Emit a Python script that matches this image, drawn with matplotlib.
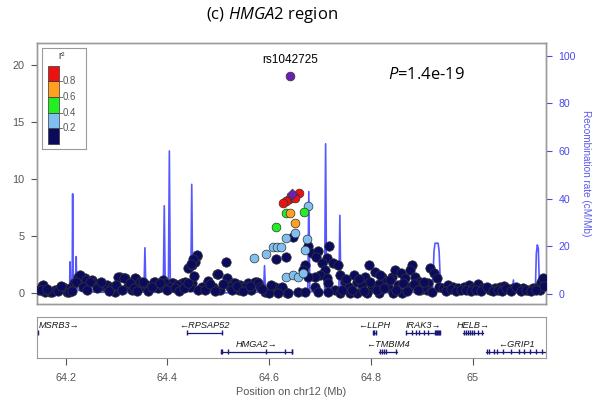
import numpy as np
import matplotlib.pyplot as plt

plt.rcParams['font.family'] = ['Liberation Sans', 'DejaVu Sans']
plt.rcParams['mathtext.fontset'] = 'custom'
plt.rcParams['mathtext.it'] = 'Open Sans:italic'
plt.rcParams['mathtext.rm'] = 'Open Sans'

# --- SNP results (position in Mb, -log10 P) by r2 bin ---
navy_pos = [64.153, 64.147, 64.160, 64.170, 64.179, 64.189, 64.196, 64.202, 64.209, 64.217,
            64.225, 64.232, 64.238, 64.245, 64.253, 64.258, 64.266, 64.274, 64.281, 64.291,
            64.297, 64.307, 64.316, 64.322, 64.330, 64.338, 64.346, 64.356, 64.366, 64.375,
            64.382, 64.392, 64.155, 64.151, 64.173, 64.206, 64.228, 64.240, 64.248, 64.268,
            64.281, 64.291, 64.304, 64.314, 64.337, 64.346, 64.360, 64.373, 64.392, 64.412,
            64.425, 64.438, 64.448, 64.441, 64.448, 64.454, 64.458, 64.453, 64.479, 64.498,
            64.515, 64.517, 64.530, 64.543, 64.559, 64.576, 64.595, 64.614, 64.633, 64.615,
            64.625, 64.635, 64.458, 64.451, 64.447, 64.499, 64.479, 64.532, 64.572, 64.579,
            64.592, 64.612, 64.625, 64.638, 64.409, 64.428, 64.435, 64.468, 64.396, 64.405,
            64.419, 64.445, 64.461, 64.490, 64.504, 64.523, 64.540, 64.553, 64.565, 64.582,
            64.599, 64.618, 64.646, 64.677, 64.684, 64.697, 64.692, 64.718, 64.713, 64.703,
            64.726, 64.735, 64.709, 64.700, 64.713, 64.690, 64.677, 64.671, 64.667, 64.739,
            64.749, 64.766, 64.772, 64.796, 64.808, 64.789, 64.821, 64.828, 64.841, 64.847,
            64.859, 64.867, 64.880, 64.877, 64.887, 64.897, 64.756, 64.782, 64.802, 64.815,
            64.834, 64.854, 64.874, 64.690, 64.716, 64.730, 64.657, 64.671, 64.697, 64.716,
            64.739, 64.759, 64.772, 64.792, 64.815, 64.844, 64.861, 64.916, 64.923, 64.929,
            64.913, 64.910, 64.920, 64.933, 64.942, 64.952, 64.962, 64.972, 64.982, 64.992,
            65.001, 65.011, 65.021, 65.034, 65.044, 65.054, 65.062, 65.070, 65.080, 65.090,
            65.099, 65.109, 65.119, 65.128, 65.134, 65.139, 65.132, 64.897, 64.903,
            64.163, 64.185, 64.192, 64.213, 64.221, 64.235, 64.243, 64.262, 64.270, 64.286,
            64.300, 64.311, 64.327, 64.334, 64.341, 64.352, 64.362, 64.370, 64.386, 64.400,
            64.415, 64.422, 64.432, 64.440, 64.474, 64.484, 64.494, 64.509, 64.527, 64.536,
            64.548, 64.562, 64.586, 64.604, 64.744, 64.752, 64.762, 64.777, 64.786, 64.799,
            64.811, 64.818, 64.825, 64.838, 64.850, 64.864, 64.870, 64.884, 64.892, 64.905,
            64.947, 64.957, 64.967, 64.977, 64.987, 64.997, 65.006, 65.016, 65.028, 65.039,
            65.049, 65.058, 65.066, 65.075, 65.085, 65.095, 65.104, 65.114, 65.124, 65.141]
navy_logp = [0.61, 0.26, 0.11, 0.11, 0.26, 0.41, 0.50, 0.11, 0.41, 0.85,
             1.43, 1.14, 1.29, 0.99, 1.14, 0.85, 0.70, 0.61, 0.55, 0.41,
             0.11, 1.43, 1.29, 0.61, 0.26, 1.20, 0.70, 0.55, 0.41, 0.99,
             0.41, 0.61, 0.68, 0.26, 0.06, 0.11, 1.58, 1.14, 0.99, 0.61,
             0.70, 0.55, 1.43, 1.29, 1.29, 0.99, 0.70, 0.99, 1.14, 0.85,
             0.70, 0.70, 0.85, 2.17, 2.46, 2.75, 3.25, 1.49, 0.99, 1.64,
             2.69, 1.29, 0.85, 0.70, 0.85, 0.99, 0.11, 2.96, 3.13, 0.26,
             0.41, 0.03, 3.33, 2.96, 2.54, 1.67, 1.08, 0.90, 0.99, 0.90,
             0.11, 0.55, 0.50, 0.00, 0.85, 0.85, 0.99, 0.55, 0.85, 0.55,
             0.70, 0.55, 0.26, 0.55, 0.26, 0.55, 0.26, 0.55, 0.26, 0.55,
             0.00, 0.00, 4.90, 4.12, 3.54, 3.71, 3.18, 4.12, 3.04, 2.61,
             2.66, 2.46, 2.02, 1.58, 1.29, 1.43, 1.43, 2.46, 2.02, 1.58,
             0.99, 1.58, 0.99, 2.46, 1.87, 1.43, 1.43, 0.99, 1.43, 2.02,
             1.78, 1.29, 2.46, 2.02, 1.43, 0.99, 0.55, 0.70, 0.55, 0.79,
             0.55, 0.70, 0.55, 0.55, 0.85, 0.26, 0.11, 0.11, 0.11, 0.06,
             0.03, 0.00, 0.00, 0.00, 0.00, 0.00, 0.00, 2.17, 1.73, 1.29,
             0.85, 0.26, 0.11, 0.55, 0.41, 0.70, 0.55, 0.41, 0.55, 0.70,
             0.41, 0.79, 0.41, 0.26, 0.41, 0.55, 0.64, 0.32, 0.41, 0.32,
             0.41, 0.26, 0.41, 0.55, 0.99, 1.29, 0.26, 0.26, 0.55,
             0.35, 0.15, 0.62, 0.20, 1.00, 0.50, 0.30, 0.40, 0.95, 0.20,
             0.70, 0.25, 0.90, 0.45, 0.15, 1.00, 0.20, 0.55, 0.90, 0.25,
             0.45, 0.15, 0.40, 0.90, 0.30, 0.80, 0.20, 0.75, 0.30, 0.60,
             0.20, 0.65, 0.35, 0.70, 0.30, 1.20, 0.30, 1.20, 0.20, 1.00,
             0.30, 1.60, 0.40, 1.10, 0.30, 0.90, 0.20, 0.80, 0.30, 1.00,
             0.20, 0.35, 0.20, 0.25, 0.30, 0.20, 0.30, 0.20, 0.50, 0.20,
             0.30, 0.20, 0.40, 0.20, 0.50, 0.20, 0.30, 0.20, 0.30, 0.60]

lblue_pos = [64.676, 64.651, 64.634, 64.674, 64.607, 64.615, 64.623, 64.593, 64.570,
             64.670, 64.634, 64.646, 64.657, 64.666]
lblue_logp = [7.63, 5.29, 4.85, 4.76, 4.06, 4.06, 4.06, 3.42, 3.07,
              3.77, 1.43, 1.61, 1.43, 1.78]
green_pos = [64.633, 64.669, 64.614]
green_logp = [6.99, 7.13, 5.82]
orange_pos = [64.641, 64.650]
orange_logp = [6.99, 6.17]
red_pos = [64.658, 64.648, 64.640, 64.633, 64.628, 64.651]
red_logp = [8.75, 8.39, 8.22, 8.10, 7.92, 8.30]

index_pos = 64.644
index_logp = 8.68
combined_pos = 64.641
combined_logp = 19.0
lead_snp = 'rs1042725'
lead_p = '1.4e-19'

# --- recombination rate (cM/Mb) ---
recomb_pos = [64.144, 64.170, 64.195, 64.205, 64.208, 64.209, 64.210, 64.213, 64.214, 64.215,
              64.219, 64.221, 64.222, 64.226, 64.240, 64.270, 64.300, 64.330, 64.354, 64.356,
              64.358, 64.375, 64.392, 64.394, 64.396, 64.402, 64.404, 64.406, 64.425, 64.446,
              64.448, 64.450, 64.470, 64.510, 64.550, 64.589, 64.591, 64.593, 64.620, 64.650,
              64.676, 64.678, 64.680, 64.695, 64.709, 64.711, 64.713, 64.725, 64.737, 64.739,
              64.741, 64.760, 64.800, 64.840, 64.880, 64.915, 64.921, 64.924, 64.926, 64.932,
              64.934, 64.937, 64.942, 64.948, 64.949, 64.950, 64.980, 65.020, 65.060, 65.078,
              65.080, 65.082, 65.105, 65.123, 65.125, 65.127, 65.129, 65.131, 65.134, 65.139,
              65.144]
recomb_rate = [0.8, 0.6, 0.9, 2.5, 3.0, 13.5, 3.0, 3.0, 42.0, 4.0,
               3.0, 15.7, 2.5, 1.5, 1.0, 0.7, 0.8, 0.6, 0.8, 19.4,
               0.8, 0.7, 0.9, 37.0, 1.2, 1.0, 60.0, 1.0, 0.8, 1.2,
               46.0, 1.0, 0.6, 0.5, 0.6, 0.8, 11.9, 0.8, 0.7, 0.8,
               1.0, 43.0, 1.0, 0.9, 1.0, 63.0, 1.2, 0.9, 1.0, 33.0,
               1.0, 0.6, 0.5, 0.6, 0.7, 0.8, 2.0, 18.0, 21.3, 21.3,
               18.0, 2.0, 1.0, 1.0, 5.2, 1.0, 0.5, 0.6, 0.6, 0.8,
               5.9, 0.8, 0.7, 1.0, 17.0, 20.6, 19.0, 3.0, 2.0, 3.0,
               3.8]

# --- genes ---
gene_names = ['MSRB3', 'RPSAP52', 'HMGA2', 'LLPH', 'IRAK3', 'HELB', 'TMBIM4', 'GRIP1']
gene_start = [64.000, 64.438, 64.506, 64.804, 64.869, 64.981, 64.816, 65.026]
gene_end = [64.146, 64.507, 64.645, 64.810, 64.936, 65.020, 64.851, 65.200]
gene_strand = ['+', '-', '+', '-', '+', '+', '-', '-']
gene_row = [0, 0, 1, 0, 0, 0, 1, 1]
gene_exons = [[64.145],
              [64.438, 64.507],
              [64.506, 64.507, 64.520, 64.594, 64.631, 64.644, 64.645],
              [64.804, 64.806, 64.810],
              [64.869, 64.880, 64.888, 64.895, 64.905, 64.913, 64.925, 64.927,
               64.929, 64.931, 64.933, 64.935],
              [64.982, 64.986, 64.990, 64.994, 64.998, 65.003, 65.010, 65.019],
              [64.817, 64.821, 64.825, 64.829, 64.850],
              [65.028, 65.032, 65.042, 65.047, 65.060, 65.075, 65.090, 65.101,
               65.113, 65.125, 65.137]]

r2_bins = [0.0, 0.2, 0.4, 0.6, 0.8]
r2_colors = ['#0b0b5e', '#80c0f0', '#22ee22', '#ffa020', '#ee1111']

xmin, xmax = 64.144, 65.144
grey = '#555555'
frame = '#9a9a9a'
blue = '#4545ff'

fig = plt.figure(figsize=(6, 4.04), dpi=100)

# --- main association panel ---
ax = fig.add_axes([0.0617, 0.2475, 0.8483, 0.646])
ax2 = ax.twinx()
ax.set_zorder(ax2.get_zorder() + 1)
ax.patch.set_visible(False)

ax2.plot(recomb_pos, recomb_rate, color=blue, lw=1.2, alpha=0.9)
ax2.set_ylim(-4.2, 105.3)
ax2.set_yticks([0, 20, 40, 60, 80, 100])
ax2.tick_params(axis='y', colors='#4a4ae8', labelsize=7.6, length=4, pad=5)
ax2.set_ylabel('Recombination rate (cM/Mb)', rotation=270, color='#5a5aee',
               fontsize=7.2, labelpad=11)

pt = dict(linewidths=0.5, edgecolors='#333333', zorder=3)
ax.scatter(navy_pos, navy_logp, s=46, c=r2_colors[0], **pt)
ax.scatter(lblue_pos, lblue_logp, s=40, c=r2_colors[1], **pt)
ax.scatter(green_pos, green_logp, s=40, c=r2_colors[2], **pt)
ax.scatter(orange_pos, orange_logp, s=40, c=r2_colors[3], **pt)
ax.scatter(red_pos, red_logp, s=40, c=r2_colors[4], **pt)
ax.scatter([index_pos], [index_logp], marker='D', s=30, c='#7020b0',
           edgecolors='#333333', linewidths=0.5, zorder=4)
ax.scatter([combined_pos], [combined_logp], s=40, c='#6a1fb0',
           edgecolors='#333333', linewidths=0.5, zorder=4)
ax.text(combined_pos, combined_logp + 1.4, lead_snp, ha='center', va='center', fontsize=8.5)
ax.text(64.834, 19.1, '$\\mathit{P}$=' + lead_p, fontsize=12, family='Open Sans',
        va='center')

ax.set_xlim(xmin, xmax)
ax.set_ylim(-0.965, 21.93)
ax.set_xticks([])
ax.set_yticks([0, 5, 10, 15, 20])
ax.tick_params(axis='y', colors=grey, labelsize=7.8, length=4, pad=5)
for a in (ax, ax2):
    for s in a.spines.values():
        s.set_color(frame)
        s.set_linewidth(1.0)

fig.text(272 / 600, 1 - 15 / 404, '(c) $\\mathit{HMGA2}$ region', ha='center',
         va='center', fontsize=12, family='Open Sans')

# --- r2 legend ---
lax = fig.add_axes([42 / 600, 1 - 149 / 404, 44 / 600, 101 / 404])
lax.set_zorder(ax.get_zorder() + 1)
lax.set_xlim(0, 44)
lax.set_ylim(-0.064, 1.226)
lax.bar(11.5, 0.2, bottom=r2_bins, width=11, color=r2_colors, edgecolor='#333333',
        linewidth=0.5)
for b in r2_bins[1:]:
    lax.plot([17, 19.5], [b, b], color=grey, lw=0.6)
    lax.text(21, b, f'{b:.1f}', va='center', fontsize=6.9, color=grey)
lax.text(20, 1.12, 'r²', ha='center', va='center', fontsize=6.9, color='#333333')
lax.set_xticks([])
lax.set_yticks([])
for s in lax.spines.values():
    s.set_color(frame)

# --- gene panel ---
gax = fig.add_axes([0.0617, 0.1139, 0.8483, 0.1015])
gax.set_xlim(xmin, xmax)
gax.set_ylim(0, 1)
row_y = [0.62, 0.15]
gcol = '#1a1a7a'
labels = []
for name, st, en, strand, row, ex in zip(gene_names, gene_start, gene_end, gene_strand,
                                         gene_row, gene_exons):
    y = row_y[row]
    gax.plot([st, en], [y, y], color=gcol, lw=0.9)
    gax.vlines(ex, y - 0.06, y + 0.06, color=gcol, lw=1.0)
    txt = name + '\u2192' if strand == '+' else '\u2190' + name
    cx = (max(st, xmin) + min(en, xmax)) / 2
    t = gax.text(cx, y + 0.17, txt, ha='center', va='center', fontsize=6.6,
                 style='italic', color='#1a1a1a')
    labels.append(t)

gax.set_xticks([64.2, 64.4, 64.6, 64.8, 65.0])
gax.set_xticklabels(['64.2', '64.4', '64.6', '64.8', '65'])
gax.set_yticks([])
gax.tick_params(axis='x', colors=grey, labelsize=7.8, length=5, pad=6)
gax.set_xlabel('Position on chr12 (Mb)', fontsize=7.8, color=grey, labelpad=3)
for s in gax.spines.values():
    s.set_color(frame)

# keep gene labels inside the panel
fig.canvas.draw()
r = fig.canvas.get_renderer()
inv = gax.transData.inverted()
pad = 0.004
for t in labels:
    bb = t.get_window_extent(r)
    x0 = inv.transform((bb.x0, bb.y0))[0]
    x1 = inv.transform((bb.x1, bb.y0))[0]
    x, y = t.get_position()
    if x0 < xmin + pad:
        t.set_position((x + (xmin + pad - x0), y))
    elif x1 > xmax - pad:
        t.set_position((x - (x1 - xmax + pad), y))

fig.savefig('out.png', dpi=100)
